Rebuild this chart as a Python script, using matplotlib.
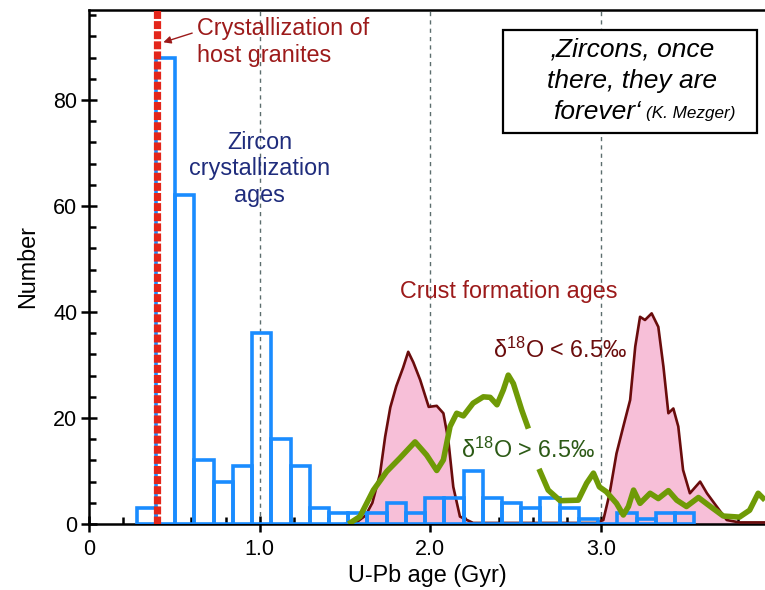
#!/usr/bin/env python

import numpy as np
import matplotlib as mpl
import matplotlib.pyplot as plt
from matplotlib.patches import Rectangle
from matplotlib.ticker import MultipleLocator

mpl.rcParams['font.family'] = ['Liberation Sans', 'DejaVu Sans']
mpl.rcParams['mathtext.fontset'] = 'custom'
mpl.rcParams['mathtext.rm'] = 'Liberation Sans'
fs = 16.8
fs_tick = 15.5

# zircon U-Pb age histogram (Gyr), constant bin width
bin_lo = 0.28
bin_width = 0.1126
zircon_counts = [3, 88, 62, 12, 8, 11, 36, 16, 11, 3, 2, 2, 2, 4, 2, 5, 5, 10,
                 5, 4, 3, 5, 3, 1, 0, 2, 1, 2, 2]

host_granite_age = 0.4

# crust formation ages, d18O < 6.5 permil (filled curve)
low_age = [1.50, 1.57, 1.62, 1.66, 1.705, 1.735, 1.765, 1.80, 1.84, 1.87,
           1.90, 1.94, 1.99, 2.037, 2.076, 2.105, 2.134, 2.173, 2.25, 2.50,
           2.80, 2.97, 3.013, 3.05, 3.09, 3.13, 3.17, 3.20, 3.228, 3.257,
           3.296, 3.335, 3.365, 3.394, 3.423, 3.452, 3.48, 3.52, 3.58, 3.62,
           3.677, 3.736, 3.81, 3.96]
low_num = [0.0, 0.4, 1.6, 4.0, 9.5, 16.5, 22.0, 26.0, 29.5, 32.5,
           30.5, 27.2, 22.1, 22.3, 20.9, 15.8, 7.0, 1.4, 0.2, 0.2,
           0.2, 0.2, 0.75, 5.8, 13.3, 18.4, 23.4, 33.5, 39.1, 38.5,
           39.75, 37.2, 29.7, 20.9, 21.8, 18.4, 10.2, 5.8, 8.0, 5.8,
           3.3, 0.75, 0.3, 0.3]

# crust formation ages, d18O > 6.5 permil (line, broken under the label)
high_age = [1.52, 1.587, 1.666, 1.744, 1.82, 1.91, 1.978, 2.037, 2.076,
            2.115, 2.154, 2.193, 2.25, 2.31, 2.35, 2.39, 2.427, 2.456, 2.486,
            2.535, 2.574, 2.60, 2.636, 2.69, 2.76, 2.866, 2.915, 2.955, 2.99,
            3.03, 3.09, 3.13, 3.16, 3.19, 3.228, 3.287, 3.335, 3.394, 3.443,
            3.50, 3.57, 3.64, 3.716, 3.81, 3.87, 3.92, 3.96]
high_num = [0.0, 1.4, 6.4, 9.9, 12.4, 15.5, 13.0, 10.1, 12.1,
            18.4, 20.9, 20.4, 22.8, 24.0, 23.9, 22.5, 25.3, 28.1, 26.5,
            21.5, 18.0, np.nan, 10.4, 6.4, 4.4, 4.5, 7.7, 9.6, 7.0,
            6.1, 3.9, 1.7, 3.3, 6.4, 3.9, 5.8, 4.8, 6.3, 4.5,
            3.3, 5.0, 3.3, 1.5, 1.3, 2.6, 5.8, 4.5]

x_ticks = [0, 1, 2, 3]
x_ticklabels = ['0', '1.0', '2.0', '3.0']
y_ticks = [0, 20, 40, 60, 80]

c_blue = '#1a8cff'
c_red = '#e3261b'
c_maroon_txt = '#9c1a1a'
c_maroon = '#6a0c0c'
c_pink = '#f7bfd8'
c_green = '#6f9a06'
c_green_txt = '#2c5a16'
c_navy = '#1f2c7c'
c_grid = '#5c6e6e'

fig = plt.figure(figsize=(7.65, 5.9), dpi=100)
ax = fig.add_axes([89/765., 66/590., 676/765., 514/590.])
ax.set_xlim(0, 3.96)
ax.set_ylim(0, 97)

# gridlines at full Gyr
for xv in x_ticks[1:]:
    ax.axvline(xv, color=c_grid, lw=1., ls=(0, (3, 3)), zorder=1)

# crust formation curves
ax.fill_between(low_age, low_num, 0, color=c_pink, lw=0, zorder=2)
ax.plot(low_age, low_num, color=c_maroon, lw=1.9, zorder=3)

# zircon histogram
lefts = bin_lo + bin_width * np.arange(len(zircon_counts))
ax.bar(lefts, zircon_counts, width=bin_width, align='edge', fill=False,
       edgecolor=c_blue, lw=2.6, zorder=4)

ax.plot(high_age, high_num, color=c_green, lw=4.0, zorder=5,
        solid_capstyle='butt', solid_joinstyle='round')

ax.axvline(host_granite_age, color=c_red, lw=5.2, ls=(0, (1.1, 0.3)),
           zorder=6)

# labels
ax.text(0.633, 91.0, 'Crystallization of\nhost granites', color=c_maroon_txt,
        fontsize=fs, ha='left', va='center', linespacing=1.2, zorder=7)
ax.annotate('', xy=(0.42, 90.75), xytext=(0.62, 92.8),
            arrowprops=dict(arrowstyle='-|>', color=c_maroon_txt, lw=1.,
                            mutation_scale=11))
ax.text(1.0, 67.0, 'Zircon\ncrystallization\nages', color=c_navy,
        fontsize=fs, ha='center', va='center', linespacing=1.2, zorder=7)
ax.text(2.46, 43.8, 'Crust formation ages', color=c_maroon_txt, fontsize=fs,
        ha='center', va='center', zorder=7)
ax.text(2.76, 32.8, '\u03b4$^{\\mathregular{18}}$O < 6.5\u2030',
        color=c_maroon, fontsize=fs, ha='center', va='center', zorder=7)
ax.text(2.575, 14.0, '\u03b4$^{\\mathregular{18}}$O > 6.5\u2030',
        color=c_green_txt, fontsize=fs, ha='center', va='center', zorder=7)

# quote box
ax.add_patch(Rectangle((0.6124, 0.761), 0.3756, 0.200, transform=ax.transAxes,
                       facecolor='white', edgecolor='k', lw=1.6, zorder=8))
ax.text(0.803, 0.924, '\u201aZircons, once', transform=ax.transAxes,
        fontsize=19, style='italic', ha='center', va='center', zorder=9)
ax.text(0.803, 0.862, 'there, they are', transform=ax.transAxes,
        fontsize=19, style='italic', ha='center', va='center', zorder=9)
ax.text(0.8166, 0.802, 'forever\u2018', transform=ax.transAxes,
        fontsize=19, style='italic', ha='right', va='center', zorder=9)
ax.text(0.824, 0.798, '(K. Mezger)', transform=ax.transAxes,
        fontsize=12.3, style='italic', ha='left', va='center', zorder=9)

# axes frame and ticks
ax.spines['right'].set_visible(False)
for side in ['left', 'bottom', 'top']:
    ax.spines[side].set_linewidth(1.8)
ax.set_xticks(x_ticks)
ax.set_xticklabels(x_ticklabels)
ax.set_yticks(y_ticks)
ax.xaxis.set_minor_locator(MultipleLocator(0.2))
ax.yaxis.set_minor_locator(MultipleLocator(4))
ax.tick_params('both', which='major', direction='inout', length=11, width=1.8,
               labelsize=fs_tick, pad=3)
ax.tick_params('x', which='major', pad=5)
ax.tick_params('both', which='minor', direction='in', length=5, width=1.8)
ax.set_xlabel('U-Pb age (Gyr)', fontsize=fs, labelpad=3)
ax.set_ylabel('Number', fontsize=fs, labelpad=10)

plt.savefig('out.png', dpi=100)
plt.close(fig)
